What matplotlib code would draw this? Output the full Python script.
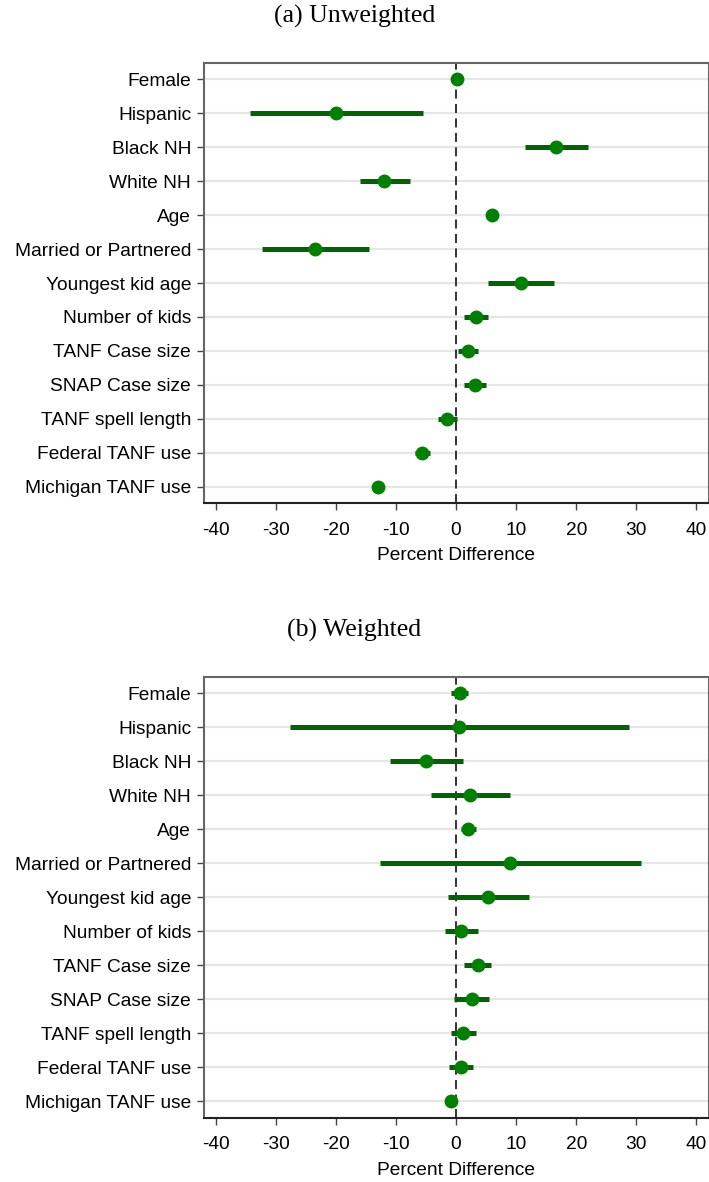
import matplotlib
matplotlib.use("Agg")
import matplotlib.pyplot as plt
import numpy as np

labels = ["Female", "Hispanic", "Black NH", "White NH", "Age",
          "Married or Partnered", "Youngest kid age", "Number of kids",
          "TANF Case size", "SNAP Case size", "TANF spell length",
          "Federal TANF use", "Michigan TANF use"]

# (a) Unweighted
unw_est = [0.2, -19.9, 16.7, -11.9, 6.0, -23.5, 10.8, 3.4, 2.0, 3.1, -1.5, -5.6, -13.0]
unw_lo = [-0.2, -34.2, 11.5, -16.0, 5.4, -32.3, 5.3, 1.4, 0.4, 1.3, -3.0, -6.9, -13.5]
unw_hi = [0.6, -5.5, 21.9, -7.6, 6.6, -14.5, 16.3, 5.3, 3.6, 5.0, 0.1, -4.3, -12.5]

# (b) Weighted
w_est = [0.6, 0.5, -5.0, 2.4, 2.0, 9.0, 5.35, 0.8, 3.6, 2.6, 1.2, 0.8, -0.8]
w_lo = [-0.8, -27.6, -11.0, -4.1, 0.8, -12.7, -1.4, -1.9, 1.4, -0.3, -0.9, -1.2, -1.3]
w_hi = [2.0, 28.7, 1.2, 9.0, 3.3, 30.8, 12.1, 3.6, 5.9, 5.5, 3.4, 2.8, -0.3]

xticks = [-40, -30, -20, -10, 0, 10, 20, 30, 40]

plt.rcParams['font.family'] = ['Liberation Sans', 'DejaVu Sans']

fig = plt.figure(figsize=(7.09, 11.82), dpi=100)
W, H = 709, 1182


def panel(top, bottom, est, lo, hi):
    ax = fig.add_axes([203.5 / W, 1 - bottom / H, (708.5 - 203.5) / W, (bottom - top) / H])
    y = np.arange(len(labels))
    for yy in y:
        ax.axhline(yy, color="#e6e6e6", lw=1.6, zorder=0)
    ax.axvline(0, color="#222222", lw=1.3, ls=(0, (5, 3)), zorder=1)
    ax.hlines(y, lo, hi, color="#006400", lw=3.6, zorder=2)
    ax.plot(est, y, "o", color="#008000", ms=9, mec="#008000", zorder=3)
    ax.set_ylim(12.48, -0.48)
    ax.set_xlim(-42, 42)
    ax.set_yticks(y)
    ax.set_yticklabels(labels, fontsize=13.8)
    ax.set_xticks(xticks)
    ax.set_xticklabels([str(t) for t in xticks], fontsize=13.8)
    ax.set_xlabel("Percent Difference", fontsize=13.8, labelpad=6)
    ax.tick_params(axis="y", length=5, width=1, color="#444444", pad=4)
    ax.tick_params(axis="x", length=5, width=1, color="#444444", pad=8.5)
    for s in ["top", "right", "left"]:
        ax.spines[s].set_color("#666666")
        ax.spines[s].set_linewidth(1.5)
    ax.spines["bottom"].set_color("#222222")
    ax.spines["bottom"].set_linewidth(1.5)
    return ax


panel(62.7, 503.3, unw_est, unw_lo, unw_hi)
panel(676.7, 1117.7, w_est, w_lo, w_hi)

fig.text(0.5, 1 - 16 / H, "(a) Unweighted", ha="center", va="center",
         fontsize=18.5, family="Liberation Serif")
fig.text(0.5, 1 - 630 / H, "(b) Weighted", ha="center", va="center",
         fontsize=18.5, family="Liberation Serif")

fig.savefig("out.png", dpi=100)
